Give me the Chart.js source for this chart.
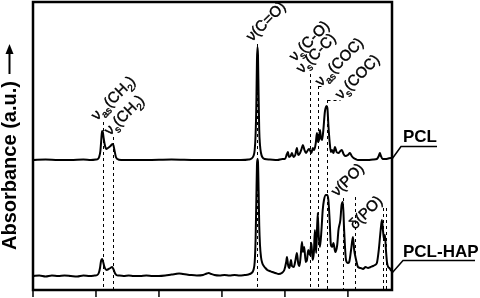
<!DOCTYPE html>
<html>
<head>
<meta charset="utf-8">
<script src="https://cdn.jsdelivr.net/npm/chart.js@4"></script>
<style>
  html, body { margin: 0; padding: 0; background: #fff; }
  canvas { display: block; }
</style>
</head>
<body>
<canvas id="ftir" width="480" height="298"></canvas>
<script>
// wavenumber (cm-1) and absorbance (a.u., offset)
const pclWn = [3500,3400,3300,3200,3100,3040,3000,2985,2975,2965,2958,2952,2946,2938,2928,2918,2905,2885,2870,2862,2852,2842,2830,2800,2600,2400,2200,2000,1850,1790,1765,1750,1740,1733,1727,1722,1718,1714,1709,1704,1698,1690,1680,1660,1620,1560,1520,1500,1484,1476,1468,1455,1444,1432,1418,1405,1395,1380,1368,1357,1345,1333,1322,1310,1302,1290,1278,1268,1255,1246,1238,1230,1222,1214,1205,1195,1183,1170,1163,1155,1145,1135,1127,1115,1103,1090,1075,1060,1048,1035,1020,1000,984,970,955,940,920,880,840,800,770,755,746,738,725,700,680,660,650]
const pclAbs = [130,130.5,130,130,130.5,130,130.5,131,133,139,150,159,158,151,144,141,142,144,146,145,139,133,131,130,130,130.5,130,130,130,130.5,131.5,134,140,155,185,230,243,235,195,160,145,137,133,131,130.5,130,131,131,136,138,133,134,137,133,135,142,135,137,141,145,140,137,139,141,140,137,142,140,147,157,148,150,160,152,150,160,178,184,182,165,148,138,140,137,143,138,137,139,140,136,134,135,137,134,132,131,130,130,130,130.5,131,134,137,134,131,131,131.5,132,132]

const hapWn = [3500,3450,3400,3350,3300,3250,3200,3150,3100,3050,3010,2990,2978,2968,2960,2952,2945,2935,2925,2915,2900,2885,2872,2862,2850,2838,2820,2780,2740,2700,2650,2600,2550,2500,2450,2400,2370,2340,2310,2280,2250,2200,2150,2120,2105,2085,2060,2020,1980,1940,1900,1860,1820,1790,1765,1750,1740,1733,1727,1722,1718,1714,1709,1704,1698,1690,1680,1668,1655,1640,1620,1600,1575,1550,1525,1505,1490,1484,1475,1465,1452,1444,1430,1416,1405,1395,1385,1375,1365,1357,1347,1335,1325,1315,1302,1290,1280,1270,1262,1252,1240,1232,1222,1210,1200,1190,1175,1165,1155,1145,1135,1125,1115,1100,1085,1075,1060,1050,1040,1030,1015,1000,990,975,960,950,935,920,900,880,860,840,820,800,785,770,755,740,730,722,712,706,698,690,680,670,660,651]
const hapAbs = [14,14.5,13.5,14.5,14,14.5,14,13.5,14.5,14,14.5,15,17,22,29,31,29,24,21,20,21,22,23,21,17,15,14.5,14,14.5,14,14,14.5,14,14,14.5,15.5,16,16.5,16,15.5,15,14.5,15,16.5,17,16,15,14.5,15,14.5,15,14.5,15,15.5,17,20,28,50,90,125,131,128,100,65,45,33,27,24,22,20,19,18,17,16,17,20,28,33,25,22,30,24,23,30,37,27,24,34,48,38,43,28,30,40,35,47,30,38,60,37,77,55,43,60,80,90,95,95,90,70,45,43,47,38,45,60,70,85,88,60,30,27,28,40,53,40,30,23,22,21,23,22,23,24,25,27,40,60,70,60,50,55,40,28,23,22,20,19]

const xTicks = [3500, 3000, 2500, 2000, 1500, 1000]

// dashed band markers: wavenumber and top of the dashed line (px)
const bandWn  = [2944, 2865, 1722, 1301, 1238, 1167, 1040, 944, 722, 698]
const bandTop = [122, 137, 44, 74, 86, 100, 198, 197, 208, 208]

const seriesNames = ['PCL', 'PCL-HAP']

const toPoints = (wn, ab) => wn.map((w, i) => ({ x: w, y: ab[i] }))

const FONT = '"Liberation Sans", Arial, sans-serif'

// rotated band labels, parts with sub=1 are subscripts
const bandLabels = [
  { x: 97,  y: 121, parts: [['ν'], ['as', 1], ['(CH'], ['2', 1], [')']] },
  { x: 110, y: 136, parts: [['ν'], ['s', 1], ['(CH'], ['2', 1], [')']] },
  { x: 252, y: 42,  parts: [['ν(C=O)']] },
  { x: 295, y: 62,  parts: [['ν'], ['s', 1], ['(C-O)']] },
  { x: 302, y: 74,  parts: [['ν'], ['s', 1], ['(C-C)']] },
  { x: 321, y: 87,  parts: [['ν'], ['as', 1], ['(COC)']] },
  { x: 341, y: 100, parts: [['ν'], ['s', 1], ['(COC)']] },
  { x: 337, y: 197, parts: [['ν(PO)']] },
  { x: 355, y: 230, parts: [['δ(PO)']] },
]

const drawRich = (ctx, x, y, angle, parts) => {
  ctx.save()
  ctx.translate(x, y)
  ctx.rotate(angle)
  let cx = 0
  for (const [t, sub] of parts) {
    ctx.font = (sub ? '10px ' : '15px ') + FONT
    ctx.fillText(t, cx, sub ? 4 : 0)
    ctx.lineWidth = 0.4
    ctx.strokeText(t, cx, sub ? 4 : 0)
    cx += ctx.measureText(t).width
  }
  ctx.restore()
}

const bandLines = {
  id: 'bandLines',
  beforeDatasetsDraw(chart) {
    const { ctx, chartArea, scales } = chart
    ctx.save()
    ctx.strokeStyle = '#000'
    ctx.lineWidth = 1
    ctx.setLineDash([3, 3])
    bandWn.forEach((w, i) => {
      const px = Math.round(scales.x.getPixelForValue(w)) + 0.5
      ctx.beginPath()
      ctx.moveTo(px, bandTop[i])
      ctx.lineTo(px, chartArea.bottom)
      ctx.stroke()
    })
    // short horizontal leaders for the COC labels
    const p318 = Math.round(scales.x.getPixelForValue(1238)) + 0.5
    const p327 = Math.round(scales.x.getPixelForValue(1167)) + 0.5
    ctx.beginPath()
    ctx.moveTo(p318, 86.5); ctx.lineTo(p318 + 6, 86.5)
    ctx.moveTo(p327, 100.5); ctx.lineTo(p327 + 13, 100.5)
    ctx.stroke()
    ctx.restore()
  },
  afterDraw(chart) {
    const { ctx, chartArea, scales } = chart
    const { left, right, top, bottom } = chartArea
    ctx.save()
    ctx.strokeStyle = '#000'
    ctx.fillStyle = '#000'
    ctx.lineWidth = 2.5
    ctx.strokeRect(left, top, right - left, bottom - top)

    // x ticks (outside, no labels)
    ctx.lineWidth = 1.5
    xTicks.forEach(w => {
      const px = scales.x.getPixelForValue(w)
      ctx.beginPath()
      ctx.moveTo(px, bottom)
      ctx.lineTo(px, bottom + 7)
      ctx.stroke()
    })

    // band labels
    ctx.textBaseline = 'alphabetic'
    ctx.textAlign = 'left'
    bandLabels.forEach(l => drawRich(ctx, l.x, l.y, -45 * Math.PI / 180, l.parts))

    // series labels with leaders
    ctx.font = 'bold 17px ' + FONT
    ctx.fillText(seriesNames[0], 403, 142)
    ctx.fillText(seriesNames[1], 403, 257)
    ctx.lineWidth = 1.5
    ctx.beginPath()
    ctx.moveTo(437, 146.5); ctx.lineTo(401, 146.5); ctx.lineTo(392, 159)
    ctx.moveTo(475, 260.5); ctx.lineTo(403, 260.5); ctx.lineTo(392, 273)
    ctx.stroke()

    // y axis title with arrow
    ctx.save()
    ctx.translate(10, 250)
    ctx.rotate(-Math.PI / 2)
    ctx.font = 'bold 20px ' + FONT
    ctx.textBaseline = 'middle'
    ctx.fillText('Absorbance (a.u.)', 0, 0)
    ctx.restore()
    ctx.lineWidth = 2
    ctx.beginPath()
    ctx.moveTo(9.5, 74); ctx.lineTo(9.5, 52)
    ctx.stroke()
    ctx.beginPath()
    ctx.moveTo(9.5, 44); ctx.lineTo(5.5, 54); ctx.lineTo(13.5, 54)
    ctx.closePath()
    ctx.fill()
    ctx.restore()
  }
}

new Chart(document.getElementById('ftir').getContext('2d'), {
  type: 'line',
  data: {
    datasets: [
      { label: seriesNames[0], data: toPoints(pclWn, pclAbs) },
      { label: seriesNames[1], data: toPoints(hapWn, hapAbs) },
    ]
  },
  options: {
    responsive: false,
    animation: false,
    devicePixelRatio: 1,
    layout: { padding: { left: 33, right: 88, top: 2, bottom: 8 } },
    elements: {
      line: { borderColor: '#000', borderWidth: 2, cubicInterpolationMode: 'monotone', fill: false },
      point: { radius: 0 }
    },
    scales: {
      x: { type: 'linear', reverse: true, min: 650, max: 3500, display: false },
      y: { min: 0, max: 288, display: false }
    },
    plugins: { legend: { display: false }, tooltip: { enabled: false } }
  },
  plugins: [bandLines]
})
</script>
</body>
</html>
